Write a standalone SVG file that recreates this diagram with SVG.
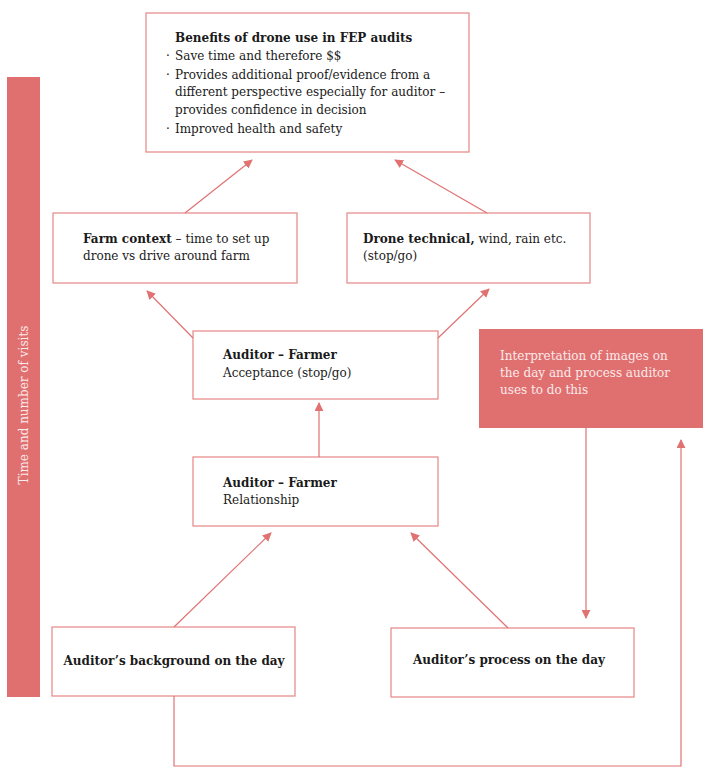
<svg xmlns="http://www.w3.org/2000/svg" width="711" height="782" viewBox="0 0 711 782">
<defs>
<marker id="ah" viewBox="0 0 10 10" refX="9" refY="5" markerWidth="9" markerHeight="9" markerUnits="userSpaceOnUse" orient="auto">
<path d="M0,0 L10,5 L0,10 Z" fill="#e07272"/>
</marker>
<style>
.box{fill:#ffffff;stroke:#e98e8e;stroke-width:1.3}
.fill{fill:#e07070}
.t{font-family:"DejaVu Serif","Liberation Serif",serif;font-size:12px;fill:#1a1a1a}
.b{font-weight:bold}
.w{fill:#fbeaea}
.c{fill:none;stroke:#e07272;stroke-width:1.2}
</style>
</defs>
<rect width="711" height="782" fill="#ffffff"/>
<g id="axis">
<rect class="fill" x="7" y="77" width="33" height="620"/>
<text class="t w" transform="translate(28,405) rotate(-90)" text-anchor="middle">Time and number of visits</text>
</g>
<g id="benefits">
<rect class="box" x="146" y="13" width="323" height="139"/>
<text class="t b" x="175" y="42">Benefits of drone use in FEP audits</text>
<text class="t" x="166" y="60">·</text><text class="t" x="175" y="60">Save time and therefore $$</text>
<text class="t" x="166" y="79">·</text><text class="t" x="175" y="79">Provides additional proof/evidence from a</text>
<text class="t" x="175" y="96">different perspective especially for auditor –</text>
<text class="t" x="175" y="114">provides confidence in decision</text>
<text class="t" x="166" y="133">·</text><text class="t" x="175" y="133">Improved health and safety</text>
</g>
<g id="farm">
<rect class="box" x="53" y="213" width="244" height="70"/>
<text class="t" x="83" y="243"><tspan class="b">Farm context</tspan> – time to set up</text>
<text class="t" x="83" y="260">drone vs drive around farm</text>
</g>
<g id="drone">
<rect class="box" x="347" y="213" width="243" height="70"/>
<text class="t" x="363" y="243"><tspan class="b">Drone technical,</tspan> wind, rain etc.</text>
<text class="t" x="363" y="260">(stop/go)</text>
</g>
<g id="acceptance">
<rect class="box" x="193" y="331" width="245" height="68"/>
<text class="t b" x="223" y="359">Auditor – Farmer</text>
<text class="t" x="223" y="377">Acceptance (stop/go)</text>
</g>
<g id="interpretation">
<rect class="fill" x="479" y="329" width="224" height="99"/>
<text class="t w" x="500" y="360">Interpretation of images on</text>
<text class="t w" x="500" y="377">the day and process auditor</text>
<text class="t w" x="500" y="394">uses to do this</text>
</g>
<g id="relationship">
<rect class="box" x="193" y="457" width="245" height="69"/>
<text class="t b" x="223" y="487">Auditor – Farmer</text>
<text class="t" x="223" y="504">Relationship</text>
</g>
<g id="background">
<rect class="box" x="52" y="627" width="243" height="69"/>
<text class="t b" x="174" y="665" text-anchor="middle">Auditor’s background on the day</text>
</g>
<g id="process">
<rect class="box" x="391" y="628" width="243" height="69"/>
<text class="t b" x="413" y="664">Auditor’s process on the day</text>
</g>
<g id="connectors">
<line class="c" x1="185" y1="213" x2="252" y2="160" marker-end="url(#ah)"/>
<line class="c" x1="487" y1="213" x2="395" y2="160" marker-end="url(#ah)"/>
<line class="c" x1="193" y1="338" x2="147" y2="291" marker-end="url(#ah)"/>
<line class="c" x1="438" y1="338" x2="489" y2="289" marker-end="url(#ah)"/>
<line class="c" x1="319" y1="457" x2="319" y2="403" marker-end="url(#ah)"/>
<line class="c" x1="174" y1="627" x2="271" y2="533" marker-end="url(#ah)"/>
<line class="c" x1="508" y1="628" x2="411" y2="533" marker-end="url(#ah)"/>
<line class="c" x1="586" y1="428" x2="586" y2="618" marker-end="url(#ah)"/>
<polyline class="c" points="174,696 174,766 681,766 681,440" marker-end="url(#ah)"/>
</g>
</svg>
